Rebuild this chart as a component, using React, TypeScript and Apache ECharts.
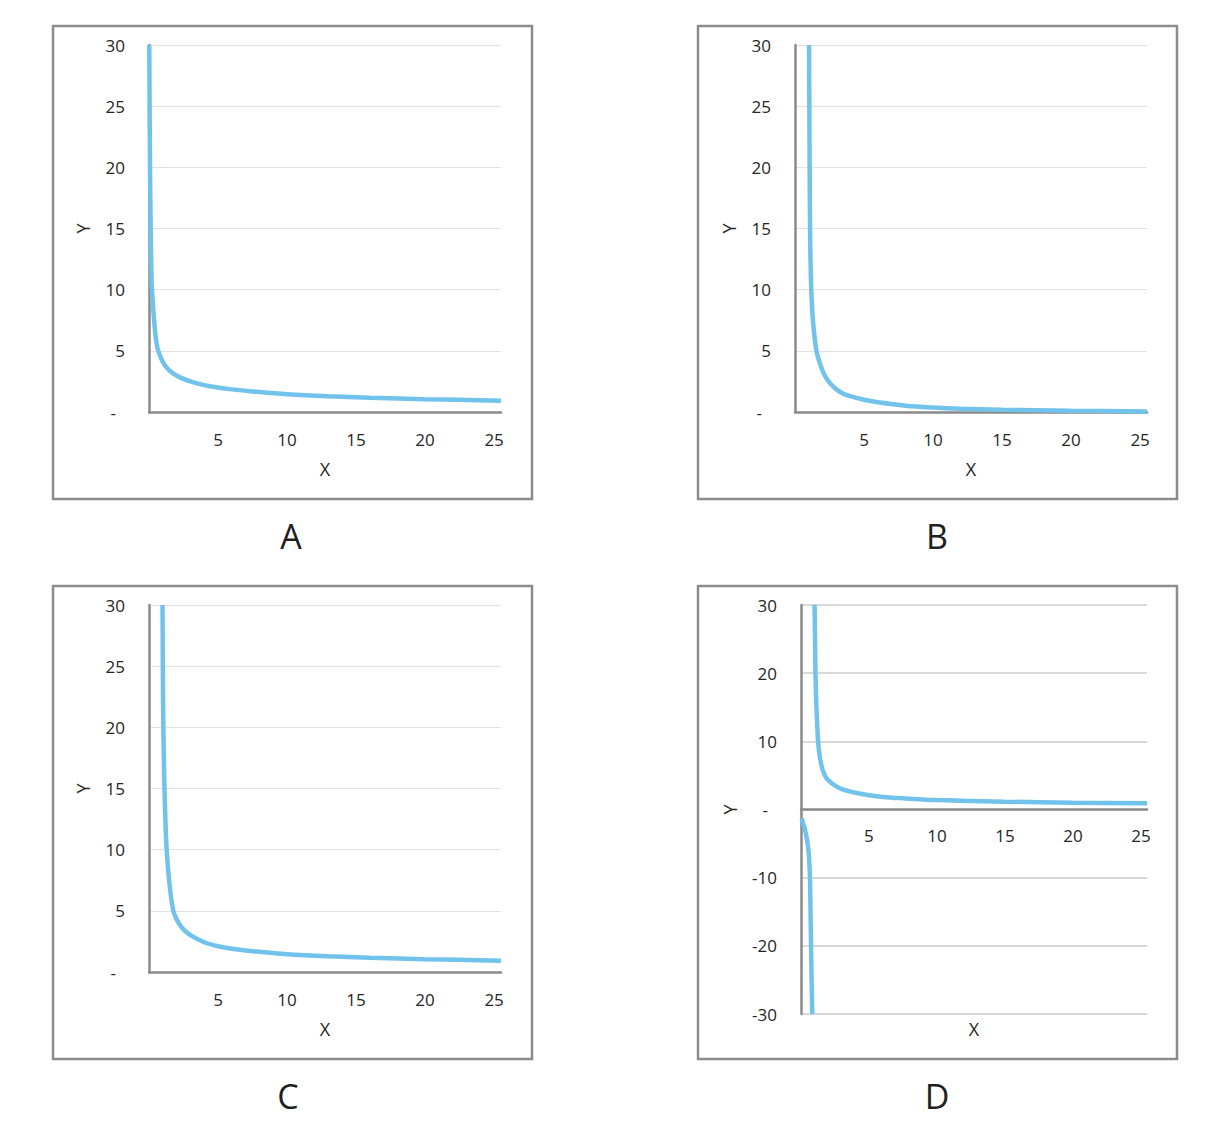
import React, { useEffect, useRef } from "react";
import * as echarts from "echarts";

// Panel A: curve hugging the y axis from x≈0
const xA = [0.02, 0.06, 0.1, 0.15, 0.2, 0.3, 0.45, 0.6, 0.8, 1, 1.3, 1.7, 2.2, 3, 4, 5, 6, 7.5, 10, 13, 16, 20, 25.5];
const yA = [30, 22, 17, 13, 10.5, 8.5, 6.5, 5.3, 4.6, 4.1, 3.6, 3.2, 2.85, 2.5, 2.2, 2.0, 1.85, 1.68, 1.45, 1.28, 1.17, 1.05, 0.92];

// Panel B: asymptote near x≈1, decays to zero
const xB = [1.02, 1.06, 1.1, 1.18, 1.3, 1.55, 1.8, 2.1, 2.5, 3, 3.5, 4, 5, 6, 8, 10, 12, 15, 20, 25.5];
const yB = [30, 20, 14, 10, 7.5, 5, 4.0, 3.1, 2.4, 1.85, 1.5, 1.3, 1.0, 0.8, 0.52, 0.37, 0.27, 0.18, 0.1, 0.05];

// Panel C: asymptote near x≈1, levels off near 1
const xC = [0.98, 1.02, 1.1, 1.2, 1.28, 1.5, 1.76, 2, 2.4, 2.9, 3.5, 4.2, 5, 6, 7.5, 10, 13, 16, 20, 25.5];
const yC = [30, 22, 16, 12, 10, 7, 5, 4.3, 3.6, 3.1, 2.7, 2.35, 2.1, 1.9, 1.7, 1.45, 1.28, 1.17, 1.05, 0.92];

// Panel D: upper branch and lower branch
const xD1 = [1.0, 1.05, 1.1, 1.2, 1.3, 1.5, 1.75, 2, 2.5, 3, 3.5, 4, 5, 6, 7.5, 10, 15, 20, 25.45];
const yD1 = [30, 22, 17, 12, 9, 6.5, 5.0, 4.3, 3.5, 3.0, 2.7, 2.45, 2.1, 1.85, 1.65, 1.38, 1.15, 1.0, 0.9];
const xD2 = [0.05, 0.15, 0.3, 0.45, 0.55, 0.62, 0.66, 0.7, 0.74, 0.79, 0.83];
const yD2 = [-1.3, -2, -3, -4.5, -6, -8, -10, -15, -20, -26, -30];

// Axis tick setup
const yTicksABC = { min: 0, max: 30, interval: 5 };
const yTicksD = { min: -30, max: 30, interval: 10 };
const xTicks = { min: 0, max: 25.5, interval: 5 };
const xMaxD = 25.45;
const panelLetters = ["A", "B", "C", "D"];

const pairs = (xs: number[], ys: number[]) => xs.map((x, i) => [x, ys[i]]);

const FONT = "'Open Sans', 'Noto Sans', sans-serif";
const AXIS_COLOR = "#8a8a8a";
const TEXT_COLOR = "#262626";
const LINE_COLOR = "#72C3EC";

export default function App() {
  const ref = useRef<HTMLDivElement>(null);
  useEffect(() => {
    if (!ref.current) return;
    const chart = echarts.init(ref.current, null, { renderer: "svg" });

    const grids = [
      { left: 149, top: 45, width: 352, height: 367 },
      { left: 795, top: 45, width: 352, height: 367 },
      { left: 149, top: 605, width: 352, height: 367 },
      { left: 801, top: 605, width: 346, height: 409 },
    ];
    const dZeroOffset = -grids[3].height / 2;

    const xLabelFmt = (v: number) => (v > 0 && v % 5 === 0 ? String(v) : "");
    const yLabelFmt = (v: number) => (v === 0 ? "{d|-}" : String(v));

    const nameStyle = { color: TEXT_COLOR, fontSize: 18, fontFamily: FONT };
    const labelStyle = { color: TEXT_COLOR, fontSize: 17, fontFamily: FONT };

    const xAxis: any[] = grids.map((g, i) => ({
      type: "value",
      gridIndex: i,
      position: "bottom",
      offset: i === 3 ? dZeroOffset : 0,
      min: xTicks.min,
      max: i === 3 ? xMaxD : xTicks.max,
      interval: xTicks.interval,
      name: i === 3 ? "" : "X",
      nameLocation: "middle",
      nameGap: 48,
      nameTextStyle: nameStyle,
      axisLine: { show: true, onZero: false, lineStyle: { color: AXIS_COLOR, width: 2.5 } },
      axisTick: { show: false },
      splitLine: { show: false },
      axisLabel: {
        ...labelStyle,
        formatter: xLabelFmt,
        margin: i === 3 ? 17 : 19,
        showMaxLabel: true,
      },
    }));
    // Panel D: name-only axis at the bottom of the plot
    xAxis.push({
      type: "value",
      gridIndex: 3,
      position: "bottom",
      min: xTicks.min,
      max: xMaxD,
      interval: xTicks.interval,
      name: "X",
      nameLocation: "middle",
      nameGap: 6,
      nameTextStyle: nameStyle,
      axisLine: { show: false, onZero: false },
      axisTick: { show: false },
      splitLine: { show: false },
      axisLabel: { show: false },
    });

    const yAxis = grids.map((g, i) => {
      const t = i === 3 ? yTicksD : yTicksABC;
      return {
        type: "value",
        gridIndex: i,
        min: t.min,
        max: t.max,
        interval: t.interval,
        name: "Y",
        nameLocation: "middle",
        nameGap: i === 3 ? 62 : 57,
        nameRotate: 90,
        nameTextStyle: nameStyle,
        axisLine: { show: true, onZero: false, lineStyle: { color: AXIS_COLOR, width: 2.5 } },
        axisTick: { show: false },
        splitLine: {
          show: true,
          lineStyle: i === 3 ? { color: "#cdcdcd", width: 1.5 } : { color: "#e2e2e2", width: 1 },
        },
        axisLabel: {
          ...labelStyle,
          formatter: yLabelFmt,
          margin: 24,
          rich: { d: { ...labelStyle, padding: [0, 9, 0, 0] } },
        },
      };
    });

    const lineSeries = (data: number[][], idx: number) => ({
      type: "line",
      xAxisIndex: idx,
      yAxisIndex: idx,
      data,
      showSymbol: false,
      symbol: "none",
      smooth: 0.3,
      lineStyle: { color: LINE_COLOR, width: 4.5 },
      z: 3,
    });

    const boxes = [
      { x: 53, y: 26 },
      { x: 698, y: 26 },
      { x: 53, y: 586 },
      { x: 698, y: 586 },
    ];
    const letterPos = [
      { x: 291, y: 536 },
      { x: 937, y: 536 },
      { x: 288, y: 1096 },
      { x: 937, y: 1096 },
    ];

    const graphic: any[] = [];
    boxes.forEach((b) => {
      graphic.push({
        type: "rect",
        shape: { x: b.x, y: b.y, width: 479, height: 473 },
        style: { fill: "none", stroke: "#8c8c8c", lineWidth: 2.5 },
        silent: true,
        z: -1,
      });
    });
    letterPos.forEach((p, i) => {
      graphic.push({
        type: "text",
        x: p.x,
        y: p.y,
        style: {
          text: panelLetters[i],
          fontSize: 34,
          fontFamily: FONT,
          fill: "#1f1f1f",
          align: "center",
          verticalAlign: "middle",
        },
        silent: true,
      });
    });

    chart.setOption({
      animation: false,
      backgroundColor: "#ffffff",
      grid: grids.map((g) => ({ ...g, containLabel: false, outerBoundsMode: "none" })),
      xAxis,
      yAxis,
      series: [
        lineSeries(pairs(xA, yA), 0),
        lineSeries(pairs(xB, yB), 1),
        lineSeries(pairs(xC, yC), 2),
        lineSeries(pairs(xD1, yD1), 3),
        lineSeries(pairs(xD2, yD2), 3),
      ],
      graphic,
    });

    return () => chart.dispose();
  }, []);

  return (
    <div
      ref={ref}
      style={{ position: "absolute", left: 0, top: 0, width: 1220, height: 1134, background: "#fff" }}
    />
  );
}
